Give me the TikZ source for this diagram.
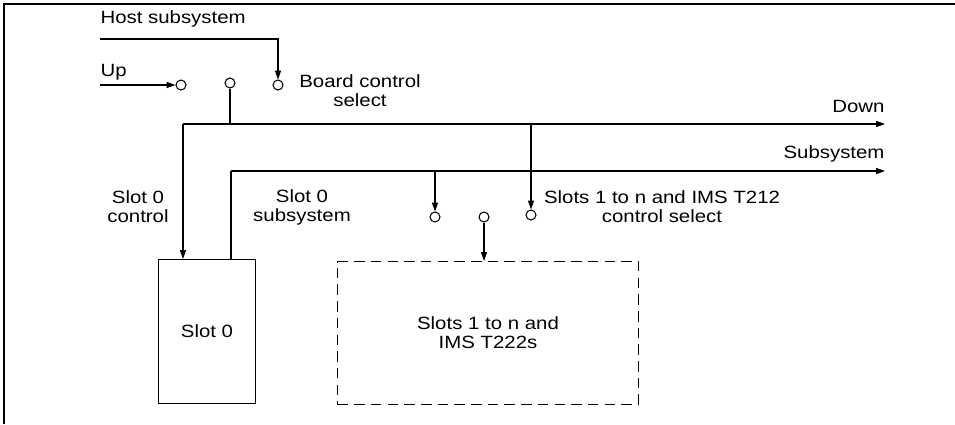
\documentclass[tikz,border=0pt]{standalone}
\usepackage{fontspec}
\setmainfont[FakeStretch=1.15]{Liberation Sans}
\usetikzlibrary{arrows.meta}

\begin{document}
\begin{tikzpicture}[
    x=0.02cm, y=-0.02cm,
    line width=0.6pt,
    >={Triangle[length=5pt, width=3.4pt]},
    contact/.style={circle, draw, fill=white, inner sep=0pt, minimum size=0.2cm},
    slotbox/.style={draw, rectangle, anchor=north west, inner sep=0pt},
    label style/.style={font=\fontsize{10.1}{10.8}\selectfont, align=center, inner sep=0pt}
]

    \useasboundingbox (0,0) rectangle (955,424);

    % --- RAMKA ---
    \draw[line width=1pt] (4,424) -- (4,4) -- (955,4);

    % --- STYKI (przelaczniki) ---
    \node[contact] (up) at (181,85) {};
    \node[contact] (mid) at (230,83) {};
    \node[contact] (host) at (278,85) {};
    \node[contact] (sub) at (435,217) {};
    \node[contact] (slots) at (484,217) {};
    \node[contact] (ctl) at (531,215) {};

    % --- BLOKI ---
    \node[slotbox, minimum width=1.94cm, minimum height=2.88cm, label style] (slot0) at (158,259) {Slot 0};
    \node[slotbox, dashed, dash pattern=on 6pt off 3.5pt, minimum width=6.02cm, minimum height=2.86cm, label style] (rest) at (337,261) {Slots 1 to n and\\IMS T222s};

    % --- WEJSCIA ---
    \coordinate (hostin) at (100,39);
    \coordinate (upin) at (100,85);
    \draw[->] (hostin) -| (host.north);
    \draw[->] (upin) -- (up.west);

    % --- SZYNA DOWN ---
    \coordinate (dleft) at (183,124);
    \coordinate (dend) at (885,124);
    \draw[->] (dleft) -- (dend);
    \draw (mid.south) -- (mid.south |- dleft);
    \draw[->] (dleft) -- (dleft |- slot0.north);
    \draw[->] (ctl.north |- dleft) -- (ctl.north);

    % --- SZYNA SUBSYSTEM ---
    \coordinate (sleft) at (231,171);
    \coordinate (send) at (885,171);
    \draw[->] (sleft) -- (send);
    \draw (sleft) -- (sleft |- slot0.north);
    \draw[->] (sub.north |- sleft) -- (sub.north);
    \draw[->] (slots.south) -- (slots.south |- rest.north);

    % --- OPISY ---
    \node[label style, anchor=west] (thost) at (100,19) {Host subsystem};
    \node[label style, anchor=west] (tup) at (100,72) {Up};
    \node[label style] (tboard) at (360,91) {Board control\\select};
    \node[label style, anchor=east] (tdown) at (885,106) {Down};
    \node[label style, anchor=east] (tsub) at (885,154) {Subsystem};
    \node[label style] (tctl0) at (138,207) {Slot 0\\control};
    \node[label style] (tsub0) at (302,207) {Slot 0\\subsystem};
    \node[label style] (tsel) at (662,207) {Slots 1 to n and IMS T212\\control select};

\end{tikzpicture}
\end{document}
